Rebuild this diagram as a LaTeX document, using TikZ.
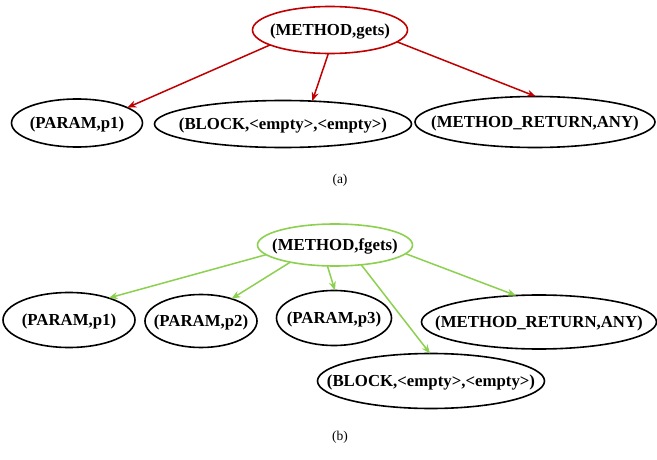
\documentclass[tikz,border=0pt]{standalone}
\usepackage{fontspec}
\setmainfont{Liberation Serif}
\usetikzlibrary{shapes.geometric,arrows.meta}
\definecolor{ared}{RGB}{192,0,0}
\definecolor{bgreen}{RGB}{140,208,80}
\newcommand{\ztxt}[1]{\makebox[0pt]{\smash{\raisebox{-0.3em}{#1}}}}
\begin{document}
\begin{tikzpicture}[x=1pt,y=-1pt,
  ell/.style={ellipse,draw=black,line width=1.6pt,inner sep=0pt,outer sep=0pt,font=\fontsize{16.8}{18}\selectfont\bfseries},
  redell/.style={ell,draw=ared},
  greenell/.style={ell,draw=bgreen},
  redarr/.style={draw=ared,line width=1.5pt,-{Stealth[length=9pt,width=7pt]}},
  greenarr/.style={draw=bgreen,line width=1.5pt,-{Stealth[length=9pt,width=7pt]}},
  captxt/.style={font=\fontsize{13.5}{15}\selectfont}
]
\useasboundingbox (0,0) rectangle (657,460);
% (a)
\node[redell,minimum width=155pt,minimum height=47pt] (ag) at (330,30) {\ztxt{(METHOD,gets)}};
\node[ell,minimum width=131pt,minimum height=48pt] (ap1) at (77,123) {\ztxt{(PARAM,p1)}};
\node[ell,minimum width=257pt,minimum height=47pt] (ab) at (283,124) {\ztxt{(BLOCK,<empty>,<empty>)}};
\node[ell,minimum width=240pt,minimum height=51pt] (ar) at (535,122) {\ztxt{(METHOD\_RETURN,ANY)}};
\draw[redarr] (ag.-166) -- (ap1.17);
\draw[redarr] (ag.-94) -- (ab.38);
\draw[redarr] (ag.-10) -- (ar.88);
\node[captxt] (la) at (340,180) {(a)};
% (b)
\node[greenell,minimum width=155pt,minimum height=42pt] (bg) at (335,245) {\ztxt{(METHOD,fgets)}};
\node[ell,minimum width=132pt,minimum height=55pt] (bp1) at (69,320) {\ztxt{(PARAM,p1)}};
\node[ell,minimum width=112pt,minimum height=53pt] (bp2) at (201,321) {\ztxt{(PARAM,p2)}};
\node[ell,minimum width=115pt,minimum height=55pt] (bp3) at (334,318) {\ztxt{(PARAM,p3)}};
\node[ell,minimum width=235pt,minimum height=54pt] (br) at (539,322) {\ztxt{(METHOD\_RETURN,ANY)}};
\node[ell,minimum width=227pt,minimum height=55pt] (bb) at (431,381) {\ztxt{(BLOCK,<empty>,<empty>)}};
\draw[greenarr] (bg.-172) -- (bp1.29);
\draw[greenarr] (bg.-159) -- (bp2.36);
\draw[greenarr] (bg.-110) -- (bp3.88);
\draw[greenarr] (bg.-37) -- (bb.92);
\draw[greenarr] (bg.-7) -- (br.131);
\node[captxt] (lb) at (340,437) {(b)};
\end{tikzpicture}
\end{document}
